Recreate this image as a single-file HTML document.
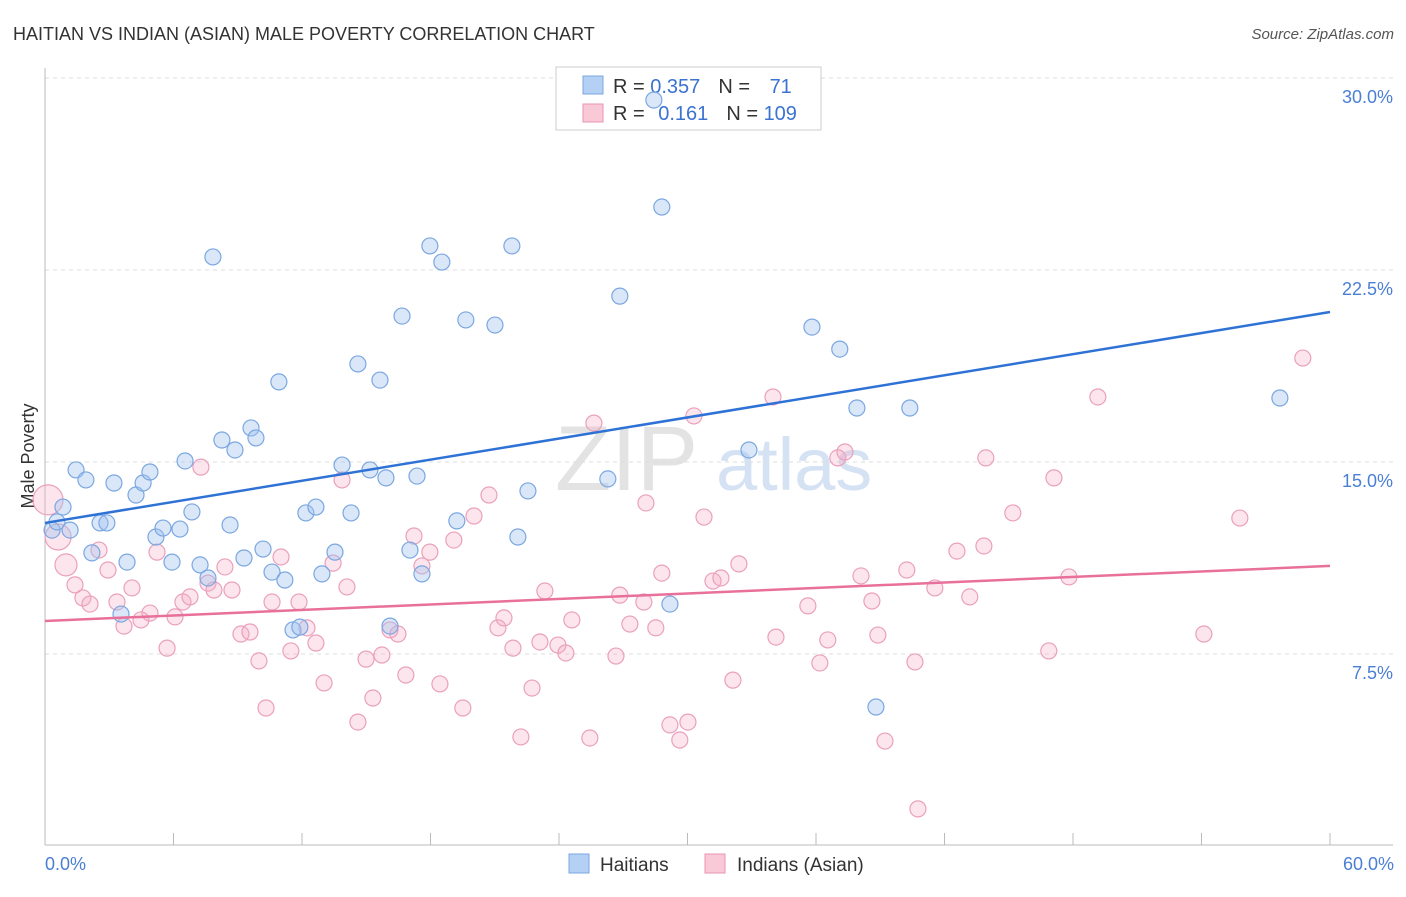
<!DOCTYPE html>
<html><head><meta charset="utf-8">
<style>
body{margin:0;background:#fff;font-family:"Liberation Sans",sans-serif;}
svg text{font-family:"Liberation Sans",sans-serif;}
</style></head>
<body>
<svg id="chart" width="1406" height="892" xmlns="http://www.w3.org/2000/svg">
<text x="13" y="40" font-size="18" fill="#333">HAITIAN VS INDIAN (ASIAN) MALE POVERTY CORRELATION CHART</text>
<text x="1394" y="39" font-size="15" fill="#555" text-anchor="end" font-style="italic">Source: ZipAtlas.com</text>
<g>
<text x="555" y="490" font-size="92" fill="#e3e3e3" font-family="Liberation Serif,serif">ZIP</text>
<text x="716" y="490" font-size="74" fill="#d4e2f4">atlas</text>
</g>
<g id="grid"></g>
<g id="axes"></g>
<text transform="translate(34,456) rotate(-90)" font-size="18" fill="#333" text-anchor="middle">Male Poverty</text>
<g>
<rect x="556" y="67" width="265" height="63" fill="#fff" stroke="#ccc"/>
<rect x="583" y="76" width="20" height="18" fill="#b5d0f5" stroke="#7ba7e0"/>
<rect x="583" y="104" width="20" height="18" fill="#f9c9d8" stroke="#e994b4"/>
<text x="613" y="93" font-size="20" fill="#333">R = <tspan fill="#3b73d1">0.357</tspan><tspan dx="18">N = </tspan><tspan dx="14" fill="#3b73d1">71</tspan></text>
<text x="613" y="120" font-size="20" fill="#333">R = <tspan dx="8" fill="#3b73d1">0.161</tspan><tspan dx="18">N = </tspan><tspan fill="#3b73d1">109</tspan></text>
</g>
<g>
<rect x="569" y="854" width="20" height="19" fill="#b5d0f5" stroke="#7ba7e0"/>
<text x="600" y="871" font-size="19" fill="#333">Haitians</text>
<rect x="705" y="854" width="20" height="19" fill="#f9c9d8" stroke="#e994b4"/>
<text x="737" y="871" font-size="19" fill="#333">Indians (Asian)</text>
</g>
<g id="marks"></g>
</svg>
<script>
const yTicks=[7.5,15,22.5,30];
const yTickLabels=["7.5%","15.0%","22.5%","30.0%"];
const xTickLabels=["0.0%","60.0%"];
const blueX=[.33,.56,.84,1.17,1.45,1.91,2.19,2.57,2.89,3.22,3.55,3.83,4.25,4.58,4.90,5.18,5.51,5.93,6.30,6.54,6.86,7.24,7.61,7.84,8.26,8.64,8.87,9.29,9.62,9.85,10.18,10.60,10.92,11.20,11.58,11.90,12.18,12.65,12.93,13.54,13.87,14.29,14.61,15.17,15.64,15.92,16.11,16.67,17.04,17.37,17.60,17.97,18.53,19.23,19.65,21.01,21.80,22.08,22.55,26.28,26.84,28.43,28.80,29.18,32.87,35.81,37.11,37.91,38.80,40.38,57.66];
const blueY=[12.34,12.66,13.24,12.34,14.69,14.30,11.45,12.62,12.62,14.18,9.06,11.09,13.71,14.18,14.61,12.07,12.42,11.09,12.38,15.04,13.05,10.98,10.47,23.01,15.86,12.54,15.47,11.25,16.33,15.94,11.60,10.70,18.13,10.39,8.44,8.55,13.01,13.24,10.63,11.48,14.88,13.01,18.83,14.69,18.20,14.38,8.59,20.70,11.56,14.45,10.63,23.44,22.81,12.70,20.55,20.35,23.44,12.07,13.87,14.34,21.48,29.14,24.96,9.45,15.47,20.27,19.41,17.11,5.43,17.11,17.50];
const pinkX=[.14,.61,.98,1.40,1.77,2.10,2.52,2.94,3.36,3.69,4.06,4.48,4.90,5.23,5.70,6.07,6.44,6.77,7.28,7.61,7.89,8.40,8.73,9.15,9.57,9.99,10.32,10.60,11.02,11.48,11.86,12.23,12.65,13.03,13.45,13.87,14.10,14.61,14.99,15.31,15.73,16.11,16.48,16.85,17.23,17.60,17.97,18.44,19.09,19.51,20.03,20.73,21.15,21.43,21.85,22.22,22.74,23.11,23.34,23.95,24.32,24.60,25.44,25.63,26.66,26.84,27.31,27.96,28.06,28.52,28.80,29.18,29.64,30.02,30.30,30.77,31.19,31.56,32.12,32.40,33.99,34.13,35.62,36.18,36.55,37.02,37.35,38.10,38.61,38.89,39.22,40.24,40.62,40.76,41.55,42.58,43.18,43.84,43.93,45.19,46.87,47.11,47.81,49.16,54.11,55.79,58.73];
const pinkY=[13.52,12.07,10.98,10.20,9.69,9.45,11.56,10.78,9.53,8.59,10.08,8.83,9.10,11.48,7.73,8.95,9.53,9.73,14.80,10.27,10.00,10.90,10.00,8.28,8.36,7.23,5.39,9.53,11.29,7.62,9.53,8.52,7.93,6.37,11.05,14.30,10.12,4.84,7.30,5.78,7.46,8.44,8.28,6.68,12.11,10.94,11.48,6.33,11.95,5.39,12.89,13.71,8.52,8.91,7.73,4.26,6.17,7.97,9.96,7.85,7.54,8.83,4.22,16.52,7.42,9.80,8.67,9.53,13.40,8.52,10.66,4.73,4.14,4.84,16.80,12.85,10.35,10.47,6.48,11.02,17.54,8.16,9.38,7.15,8.05,15.16,15.39,10.55,9.57,8.24,4.10,10.78,7.19,1.45,10.08,11.52,9.73,11.72,15.16,13.01,7.62,14.38,10.51,17.54,8.28,12.81,19.06];
const pinkR=[15,13,11];
const blueTrend=[12.62,20.86];
const pinkTrend=[8.79,10.94];
const NS="http://www.w3.org/2000/svg";
const X0=45,X1=1330,Y0=846;
function sx(v){return X0+v/60*(X1-X0);}
function sy(v){return Y0-v*25.6;}
function mk(t,a,p){const e=document.createElementNS(NS,t);for(const k in a)e.setAttribute(k,a[k]);p.appendChild(e);return e;}
const grid=document.getElementById('grid'),axes=document.getElementById('axes'),marks=document.getElementById('marks');
yTicks.forEach((t,i)=>{
 const l=mk('line',{x1:X0,x2:1393,y1:sy(t),y2:sy(t),stroke:'#ddd','stroke-dasharray':'4,4'},grid);
 
 
 const tx=mk('text',{x:1393,y:sy(t)+25,'font-size':18,fill:'#4a7fd4','text-anchor':'end'},axes);
 tx.textContent=yTickLabels[i];
 
 
});
const al=mk('line',{x1:X0,x2:X0,y1:68,y2:845,stroke:'#bbb'},axes);


const bl=mk('line',{x1:X0,x2:1393,y1:845,y2:845,stroke:'#bbb'},axes);


for(let i=0;i<=10;i++){
 const v=i*6;
 const tk=mk('line',{x1:sx(v),x2:sx(v),y1:833,y2:845,stroke:'#bbb'},axes);
 
 
}
[[0,'start',45],[60,'end',1394]].forEach((d,i)=>{
 const tx=mk('text',{x:d[2],y:870,'font-size':18,fill:'#4a7fd4','text-anchor':d[1]},axes);
 tx.textContent=xTickLabels[i];
 
 
});
pinkX.forEach((x,i)=>{
 const c=mk('circle',{cx:sx(x),cy:sy(pinkY[i]),r:pinkR[i]||8,fill:'rgba(244,170,195,0.3)',stroke:'#eaa0bc','stroke-width':1.2},marks);
 
 
});
blueX.forEach((x,i)=>{
 const c=mk('circle',{cx:sx(x),cy:sy(blueY[i]),r:8,fill:'rgba(160,196,240,0.4)',stroke:'#7ba7e0','stroke-width':1.2},marks);
 
 
});
const bt=mk('line',{x1:sx(0),x2:sx(60),y1:sy(blueTrend[0]),y2:sy(blueTrend[1]),stroke:'#2f72d6','stroke-width':2.5},marks);


const pt=mk('line',{x1:sx(0),x2:sx(60),y1:sy(pinkTrend[0]),y2:sy(pinkTrend[1]),stroke:'#e8709a','stroke-width':2.5},marks);


</script>
</body></html>
